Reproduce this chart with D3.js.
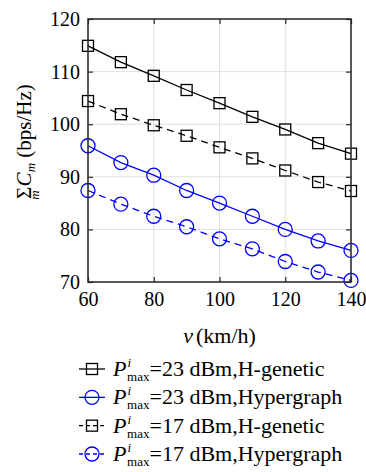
<!DOCTYPE html>
<html>
<head>
<meta charset="utf-8">
<script src="https://cdn.jsdelivr.net/npm/d3@7"></script>
<style>
    body { margin: 0; background: #fff; }
</style>
</head>
<body>
<div id="chart"></div>
<script>

// Speed in km/h
var speeds = [60, 70, 80, 90, 100, 110, 120, 130, 140];

// Sum rate (bps/Hz) for each method
var hGenetic23   = [114.9, 111.8, 109.2, 106.5, 104.0, 101.4, 99.0, 96.4, 94.4];
var hypergraph23 = [95.9, 92.7, 90.3, 87.4, 85.0, 82.5, 80.0, 77.8, 76.0];
var hGenetic17   = [104.4, 101.9, 99.8, 97.8, 95.6, 93.5, 91.2, 89.0, 87.3];
var hypergraph17 = [87.4, 84.8, 82.5, 80.5, 78.2, 76.3, 73.9, 71.9, 70.3];

var xTicks = [60, 80, 100, 120, 140];
var yTicks = [70, 80, 90, 100, 110, 120];

var series = [
    { power: "23", method: "H-genetic",  values: hGenetic23,   color: "#000",    dash: null,  marker: "square" },
    { power: "23", method: "Hypergraph", values: hypergraph23, color: "#0000ff", dash: null,  marker: "circle" },
    { power: "17", method: "H-genetic",  values: hGenetic17,   color: "#000",    dash: "7,5", marker: "square" },
    { power: "17", method: "Hypergraph", values: hypergraph17, color: "#0000ff", dash: "7,5", marker: "circle" }
];

var FONT = "'Liberation Serif', 'Times New Roman', Times, serif";

var totalWidth = 366, totalHeight = 472;
var margin = { top: 19, right: 15, bottom: 190, left: 88 },
    width = totalWidth - margin.left - margin.right,
    height = totalHeight - margin.top - margin.bottom;

var svg = d3.select("#chart").append("svg")
    .attr("width", totalWidth)
    .attr("height", totalHeight)
    .attr("font-family", FONT);

var g = svg.append("g")
    .attr("transform", "translate(" + margin.left + "," + margin.top + ")");

var x = d3.scaleLinear().domain([60, 140]).range([0, width]);
var y = d3.scaleLinear().domain([70, 120]).range([height, 0]);

// Grid lines
g.append("g")
    .selectAll("line")
    .data(xTicks)
    .enter().append("line")
    .attr("x1", function(d) { return x(d); })
    .attr("x2", function(d) { return x(d); })
    .attr("y1", 0).attr("y2", height)
    .attr("stroke", "#e0e0e0").attr("stroke-width", 1);

g.append("g")
    .selectAll("line")
    .data(yTicks)
    .enter().append("line")
    .attr("y1", function(d) { return y(d); })
    .attr("y2", function(d) { return y(d); })
    .attr("x1", 0).attr("x2", width)
    .attr("stroke", "#e0e0e0").attr("stroke-width", 1);

// Axes with inward ticks on all four sides
function styleAxis(sel) {
    sel.attr("font-family", FONT).attr("font-size", 20);
    sel.select(".domain").remove();
    sel.selectAll(".tick line").attr("stroke", "#262626").attr("stroke-width", 1.2);
    sel.selectAll(".tick text").attr("fill", "#000").style("font-family", FONT);
}

g.append("g")
    .attr("transform", "translate(0," + height + ")")
    .call(d3.axisBottom(x).tickValues(xTicks).tickSizeInner(-5).tickSizeOuter(0).tickPadding(10))
    .call(styleAxis);

g.append("g")
    .call(d3.axisTop(x).tickValues(xTicks).tickSizeInner(-5).tickSizeOuter(0).tickFormat(""))
    .call(styleAxis);

g.append("g")
    .call(d3.axisLeft(y).tickValues(yTicks).tickSizeInner(-5).tickSizeOuter(0).tickPadding(8))
    .call(styleAxis);

g.append("g")
    .attr("transform", "translate(" + width + ",0)")
    .call(d3.axisRight(y).tickValues(yTicks).tickSizeInner(-5).tickSizeOuter(0).tickFormat(""))
    .call(styleAxis);

// Lines and markers
var line = d3.line()
    .x(function(d, i) { return x(speeds[i]); })
    .y(function(d) { return y(d); });

function drawMarker(sel, s, cx, cy) {
    if (s.marker === "square") {
        sel.append("rect")
            .attr("x", cx - 5.5).attr("y", cy - 5.5)
            .attr("width", 11).attr("height", 11)
            .attr("fill", "none").attr("stroke", s.color).attr("stroke-width", 1.3);
    } else {
        sel.append("circle")
            .attr("cx", cx).attr("cy", cy).attr("r", 7)
            .attr("fill", "none").attr("stroke", s.color).attr("stroke-width", 1.3);
    }
}

series.forEach(function(s) {
    g.append("path")
        .datum(s.values)
        .attr("d", line)
        .attr("fill", "none")
        .attr("stroke", s.color)
        .attr("stroke-width", 1.3)
        .attr("stroke-dasharray", s.dash);

    var mg = g.append("g");
    s.values.forEach(function(v, i) {
        drawMarker(mg, s, x(speeds[i]), y(v));
    });
});

// Plot frame
g.append("rect")
    .attr("width", width).attr("height", height)
    .attr("fill", "none").attr("stroke", "#262626").attr("stroke-width", 1.5);

// Axis labels
var xl = svg.append("text")
    .attr("x", margin.left + width / 2)
    .attr("y", 343)
    .attr("text-anchor", "middle")
    .style("font-family", FONT)
    .style("font-size", "22px");
xl.append("tspan").style("font-style", "italic").text("v");
xl.append("tspan").attr("dx", 3).text("(km/h)");

var yl = svg.append("text")
    .attr("transform", "translate(31,142) rotate(-90)")
    .attr("text-anchor", "middle")
    .style("font-family", FONT)
    .style("font-size", "21px");
yl.append("tspan").text("Σ");
yl.append("tspan").attr("dx", -13).attr("dy", 8).style("font-size", "13px").style("font-style", "italic").text("m");
yl.append("tspan").attr("dx", 4).attr("dy", -8).style("font-style", "italic").text("C");
yl.append("tspan").attr("dy", 4).style("font-size", "13px").style("font-style", "italic").text("m");
yl.append("tspan").attr("dy", -4).text(" (bps/Hz)");

// Legend
var legend = svg.append("g").attr("class", "legend");
var rowY = d3.scaleLinear().domain([0, 3]).range([369, 454]);

series.forEach(function(s, i) {
    var ly = rowY(i);
    var row = legend.append("g");
    row.append("line")
        .attr("x1", 79).attr("x2", 105)
        .attr("y1", ly).attr("y2", ly)
        .attr("stroke", s.color).attr("stroke-width", 1.3)
        .attr("stroke-dasharray", s.dash ? "4,3" : null);
    drawMarker(row, s, 92, ly);

    var t = row.append("text")
        .attr("x", 113).attr("y", ly + 7)
        .style("font-family", FONT)
        .style("font-size", "22px");
    t.append("tspan").style("font-style", "italic").text("P");
    t.append("tspan").attr("dx", 1).attr("dy", -9).style("font-size", "13px").style("font-style", "italic").text("i");
    t.append("tspan").attr("dx", -4).attr("dy", 14).style("font-size", "13px").text("max");
    t.append("tspan").attr("dy", -5).text("=" + s.power + " dBm," + s.method);
});

</script>
</body>
</html>
